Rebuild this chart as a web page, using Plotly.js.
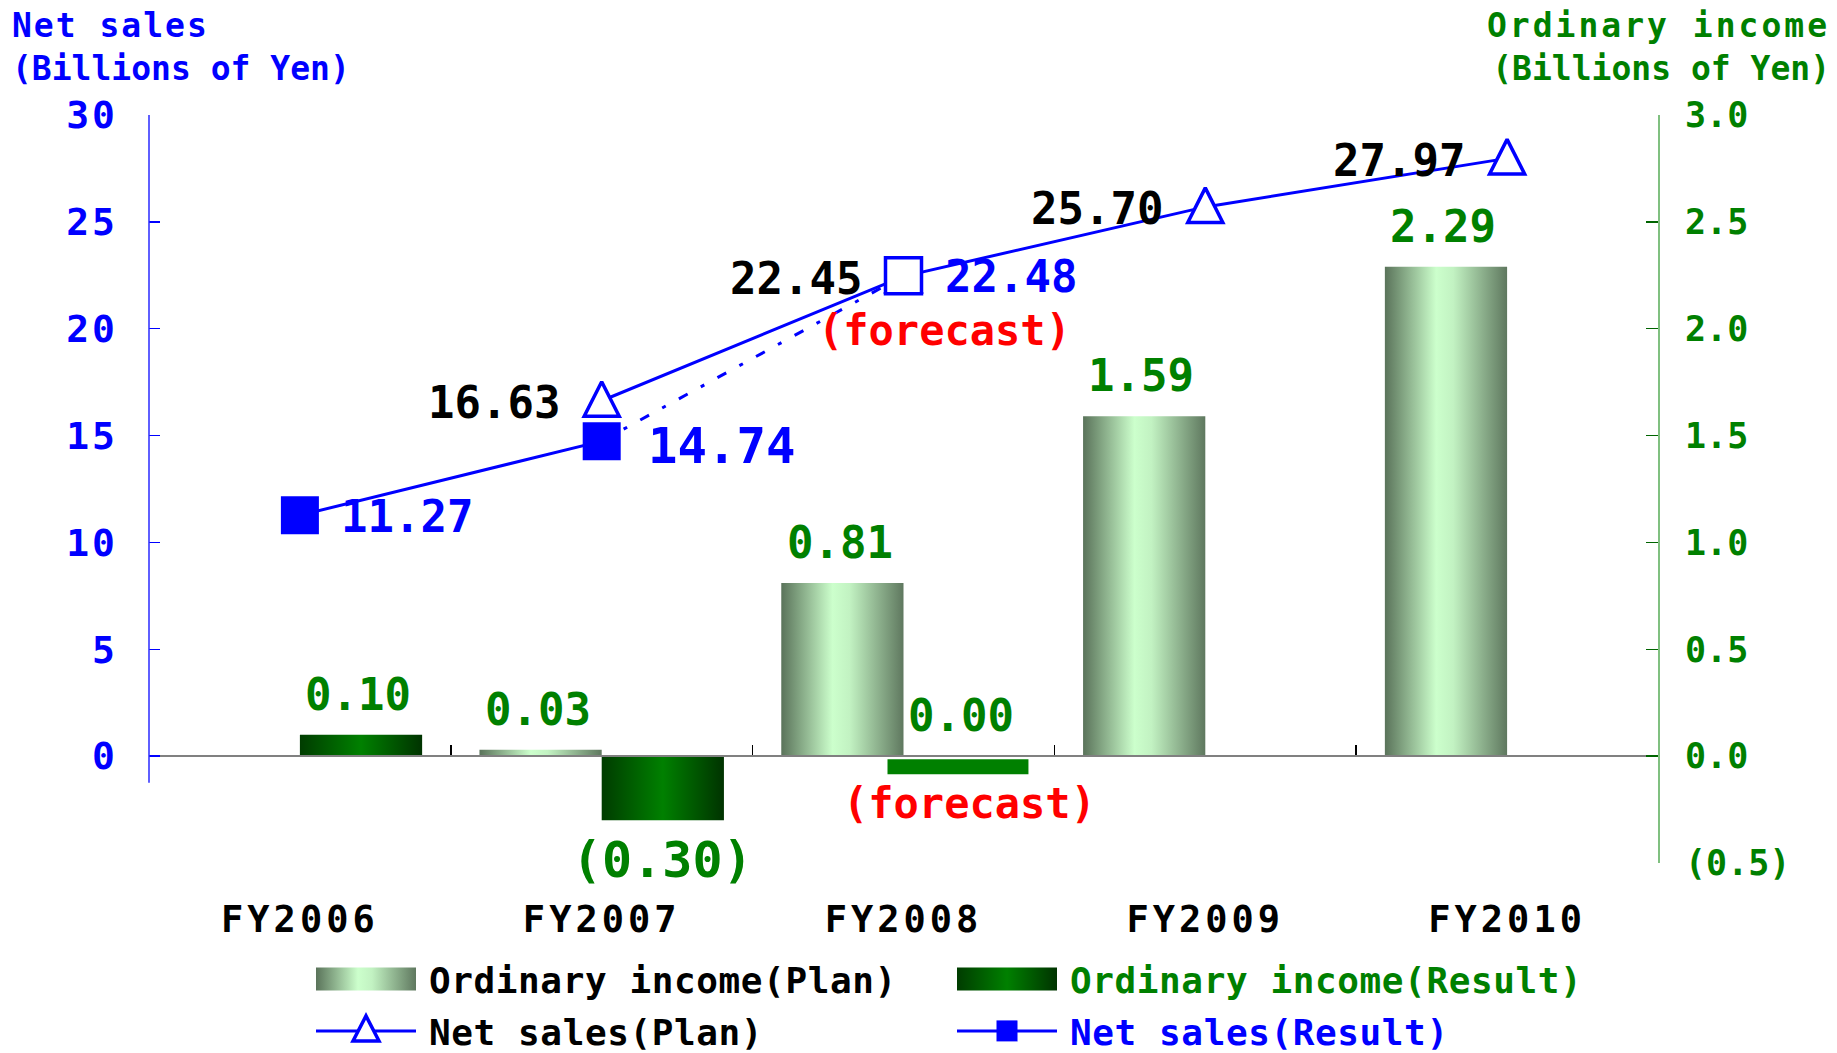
<!DOCTYPE html>
<html>
<head>
<meta charset="utf-8">
<script src="https://cdn.plot.ly/plotly-3.0.1.min.js"></script>
<style>
  html, body { margin: 0; padding: 0; background: #fff; }
  #chart { width: 1837px; height: 1053px; }
  .xtick text { letter-spacing: 4px; }
  .y2tick text { letter-spacing: 3px; }
  .legendtext, .legend2text, .legend3text, .legend4text { letter-spacing: 0.6px; }
</style>
</head>
<body>
<div id="chart"></div>
<script>
// ---- data (billions of yen) ----
const fiscalYears   = ['FY2006', 'FY2007', 'FY2008', 'FY2009', 'FY2010'];
const incomePlan    = [null, 0.03, 0.81, 1.59, 2.29];
const incomeResult  = [0.10, -0.30, 0.00, null, null];
const salesPlan     = [null, 16.63, 22.45, 25.70, 27.97];
const salesResult   = [11.27, 14.74, 22.48, null, null];
const forecastYear  = 'FY2008';
const emphasisYear  = 'FY2007';
const incomeTicks   = [-0.5, 0, 0.5, 1.0, 1.5, 2.0, 2.5, 3.0];
const salesTicks    = [0, 5, 10, 15, 20, 25, 30];

// ---- styling ----
const FONT = 'DejaVu Sans Mono';
const BLUE = '#0000ff', GREEN = '#008000', RED = '#ff0000', BLACK = '#000000';
const SLOT = 0.202;               // offset of each grouped bar from the category centre
const f = (size, color) => ({ family: FONT, size: size, color: color, weight: 'bold' });

const fmtIncome = v => v < 0 ? '(' + Math.abs(v).toFixed(2) + ')' : v.toFixed(2);
const fmtAxis   = v => v < 0 ? '(' + Math.abs(v).toFixed(1) + ')' : v.toFixed(1);

const fIdx = fiscalYears.indexOf(forecastYear);

// actual (non-forecast) results, and the dotted link to the forecast point
const actualYears = [], actualSales = [];
salesResult.forEach((v, i) => { if (v != null && i < fIdx) { actualYears.push(fiscalYears[i]); actualSales.push(v); } });

const traces = [
  { type: 'bar', name: 'Ordinary income(Plan)', x: fiscalYears, y: incomePlan, yaxis: 'y',
    marker: { color: '#9fd09f', line: { width: 0 } }, legend: 'legend', hoverinfo: 'skip' },
  { type: 'bar', name: 'Ordinary income(Result)', x: fiscalYears, y: incomeResult, yaxis: 'y',
    marker: { color: GREEN, line: { width: 0 } }, legend: 'legend2', hoverinfo: 'skip' },
  { type: 'scatter', mode: 'lines+markers', name: 'Net sales(Plan)', uid: 'nsplan',
    x: fiscalYears, y: salesPlan, yaxis: 'y2', legend: 'legend3',
    line: { color: BLUE, width: 3 },
    marker: { symbol: 'triangle-up', size: 34, color: '#ffffff', line: { color: BLUE, width: 3.5 } } },
  { type: 'scatter', mode: 'lines', showlegend: false,
    x: [fiscalYears[fIdx - 1], fiscalYears[fIdx]], y: [salesResult[fIdx - 1], salesResult[fIdx]], yaxis: 'y2',
    line: { color: BLUE, width: 3, dash: '10px,15px,4px,15px' } },
  { type: 'scatter', mode: 'lines+markers', name: 'Net sales(Result)', uid: 'nsresult',
    x: actualYears, y: actualSales, yaxis: 'y2', legend: 'legend4',
    line: { color: BLUE, width: 3 },
    marker: { symbol: 'square', size: 38, color: BLUE, line: { width: 0 } } },
  { type: 'scatter', mode: 'markers', showlegend: false,
    x: [forecastYear], y: [salesResult[fIdx]], yaxis: 'y2',
    marker: { symbol: 'square', size: 36, color: '#ffffff', line: { color: BLUE, width: 3.5 } } }
];

// ---- value labels ----
const annotations = [];
annotations.push({ xref: 'paper', yref: 'paper', x: -0.0921, y: 1.1484, xanchor: 'left', yanchor: 'top',
  align: 'left', showarrow: false,
  text: '<span style="letter-spacing:2px">Net sales</span><br>(Billions of Yen)', font: f(33, BLUE) });
annotations.push({ xref: 'paper', yref: 'paper', x: 1.1153, y: 1.1484, xanchor: 'right', yanchor: 'top',
  align: 'right', showarrow: false,
  text: '<span style="letter-spacing:3px">Ordinary income</span><br>(Billions of Yen)', font: f(33, GREEN) });

function barLabel(x, v, big) {
  const neg = v < 0;
  return { xref: 'x', yref: 'y', x: x, y: v, text: fmtIncome(v), showarrow: false,
    xanchor: 'center', yanchor: neg ? 'top' : 'bottom', xshift: neg ? 0 : -3, yshift: neg ? -9 : 13,
    font: f(big ? 50 : 44, GREEN) };
}
fiscalYears.forEach((fy, i) => {
  if (incomePlan[i] != null) annotations.push(barLabel(i - SLOT, incomePlan[i], false));
  if (incomeResult[i] != null) annotations.push(barLabel(i + SLOT, incomeResult[i], fy === emphasisYear));
  if (salesPlan[i] != null) annotations.push({ xref: 'x', yref: 'y2', x: i, y: salesPlan[i],
    text: salesPlan[i].toFixed(2), showarrow: false, xanchor: 'right', yanchor: 'middle',
    xshift: -40, yshift: -2, font: f(44, BLACK) });
  if (salesResult[i] != null) {
    const big = fy === emphasisYear;
    annotations.push({ xref: 'x', yref: 'y2', x: i, y: salesResult[i],
      text: salesResult[i].toFixed(2), showarrow: false, xanchor: 'left', yanchor: 'middle',
      xshift: big ? 44 : 39, yshift: big ? -5 : -1, font: f(big ? 49 : 44, BLUE) });
  }
});
// forecast notes
annotations.push({ xref: 'x', yref: 'y2', x: fIdx, y: salesResult[fIdx], text: '(forecast)', showarrow: false,
  xanchor: 'center', yanchor: 'middle', xshift: 41, yshift: -55, font: f(42, RED) });
annotations.push({ xref: 'x', yref: 'y', x: fIdx + SLOT, y: incomeResult[fIdx], text: '(forecast)', showarrow: false,
  xanchor: 'center', yanchor: 'middle', xshift: 5, yshift: -47, font: f(42, RED) });

const shapes = [
  // left (net sales) axis line
  { type: 'line', xref: 'paper', yref: 'y2', x0: 0, x1: 0, y0: -1.25, y1: 30,
    line: { color: '#2a2aff', width: 1.5 } },
  // marker strip for the forecast ordinary income
  { type: 'rect', xref: 'x', yref: 'y', ysizemode: 'pixel', yanchor: incomeResult[fIdx],
    x0: fIdx - 0.053, x1: fIdx + 0.414, y0: -3, y1: -18, fillcolor: GREEN, line: { width: 0 } }
];

const legendBase = (x, y, color) => ({
  xref: 'container', yref: 'container', x: x, y: y, xanchor: 'left', yanchor: 'middle',
  orientation: 'h', itemwidth: 116, bgcolor: 'rgba(0,0,0,0)', borderwidth: 0,
  font: f(36, color)
});

const layout = {
  width: 1837, height: 1053,
  margin: { l: 149, r: 179, t: 115, b: 190, autoexpand: false },
  paper_bgcolor: '#ffffff', plot_bgcolor: '#ffffff',
  font: f(36, BLACK),
  barmode: 'group', bargap: 0.19, bargroupgap: 0,
  showlegend: true,
  xaxis: { type: 'category', categoryorder: 'array', categoryarray: fiscalYears, range: [-0.5, 4.5],
    anchor: 'free', position: 5 / 35, showline: true, linecolor: '#808080', linewidth: 2,
    ticks: 'inside', tickson: 'boundaries', ticklen: 10, tickwidth: 1.5, tickcolor: BLACK,
    tickfont: f(37, BLACK), ticklabelstandoff: 130, showgrid: false, zeroline: false, automargin: false },
  yaxis: { range: [-0.5, 3.0], side: 'right', tickvals: incomeTicks, ticktext: incomeTicks.map(fmtAxis),
    ticks: 'inside', ticklen: 12, tickwidth: 1.5, tickcolor: '#006400',
    showline: true, linecolor: '#80c080', linewidth: 2, tickfont: f(35, GREEN), ticklabelstandoff: 18,
    showgrid: false, zeroline: false, automargin: false },
  yaxis2: { range: [-5, 30], side: 'left', overlaying: 'y', tickvals: salesTicks,
    ticks: 'inside', ticklen: 11, tickwidth: 1.5, tickcolor: BLUE, showline: false,
    tickfont: f(38, BLUE), ticklabelstandoff: 30, showgrid: false, zeroline: false, automargin: false },
  legend:  legendBase(303 / 1837, 1 - 979 / 1053, BLACK),
  legend2: legendBase(944 / 1837, 1 - 979 / 1053, GREEN),
  legend3: legendBase(303 / 1837, 1 - 1031 / 1053, BLACK),
  legend4: legendBase(944 / 1837, 1 - 1031 / 1053, BLUE),
  annotations: annotations,
  shapes: shapes
};

const NS = 'http://www.w3.org/2000/svg';
function addGradient(defs, id, stops) {
  if (document.getElementById(id)) return;
  const g = document.createElementNS(NS, 'linearGradient');
  g.setAttribute('id', id);
  g.setAttribute('x1', '0'); g.setAttribute('y1', '0');
  g.setAttribute('x2', '1'); g.setAttribute('y2', '0');
  stops.forEach(([o, c]) => {
    const s = document.createElementNS(NS, 'stop');
    s.setAttribute('offset', o);
    s.setAttribute('stop-color', c);
    g.appendChild(s);
  });
  defs.appendChild(g);
}

const TRI_PLOT = 'M-17.5,15.5H17.5L0,-19Z';
const TRI_LEG = 'M-13,10H13L0,-15Z';
const SQ_LEG = 'M10.5,10.5H-10.5V-10.5H10.5Z';
const BAR_LEG = 'M50,11.5H-50V-11.5H50Z';

// set only when different, so repeated passes stay quiet
function setD(el, d) { if (el.getAttribute('d') !== d) el.setAttribute('d', d); }
function setFill(el, v) { if (el.style.fill !== v) el.style.fill = v; }

function decorate(gd) {
  const svg = gd.querySelector('svg.main-svg');
  if (!svg) return;
  let defs = svg.querySelector('defs');
  if (!defs) { defs = document.createElementNS(NS, 'defs'); svg.insertBefore(defs, svg.firstChild); }
  addGradient(defs, 'gradPlan', [[0, '#5a735a'], [0.42, '#ccffcc'], [0.56, '#c2f2c2'], [1, '#5f785f']]);
  addGradient(defs, 'gradResult', [[0, '#003c00'], [0.5, '#008000'], [1, '#003300']]);

  const fills = ['url("#gradPlan")', 'url("#gradResult")'];
  gd.querySelectorAll('.barlayer .trace').forEach((t, k) => {
    t.querySelectorAll('path').forEach(p => setFill(p, fills[k]));
  });

  gd.querySelectorAll('.tracensplan path.point').forEach(p => setD(p, TRI_PLOT));

  // legend entries (each legend names its text class after itself)
  gd.querySelectorAll('g.traces').forEach(item => {
    const t = item.querySelector('text');
    if (!t) return;
    const name = t.textContent;
    const isPlan = name.indexOf('Plan') >= 0;
    if (name.indexOf('Ordinary') === 0) {
      item.querySelectorAll('.legendpoints path').forEach(bar => {
        setD(bar, BAR_LEG);
        setFill(bar, isPlan ? fills[0] : fills[1]);
        if (bar.style.stroke !== 'none') bar.style.stroke = 'none';
      });
    } else {
      item.querySelectorAll('path.js-line').forEach(line => setD(line, 'M13,0h100'));
      item.querySelectorAll('path.scatterpts').forEach(pt => setD(pt, isPlan ? TRI_LEG : SQ_LEG));
    }
  });
}

const gd = document.getElementById('chart');
let busy = false;
const observer = new MutationObserver(() => {
  if (busy) return;
  busy = true;
  try { decorate(gd); } finally { busy = false; }
});
observer.observe(gd, { childList: true, subtree: true });
Plotly.newPlot(gd, traces, layout, { staticPlot: true, displayModeBar: false });
decorate(gd);
</script>
</body>
</html>
